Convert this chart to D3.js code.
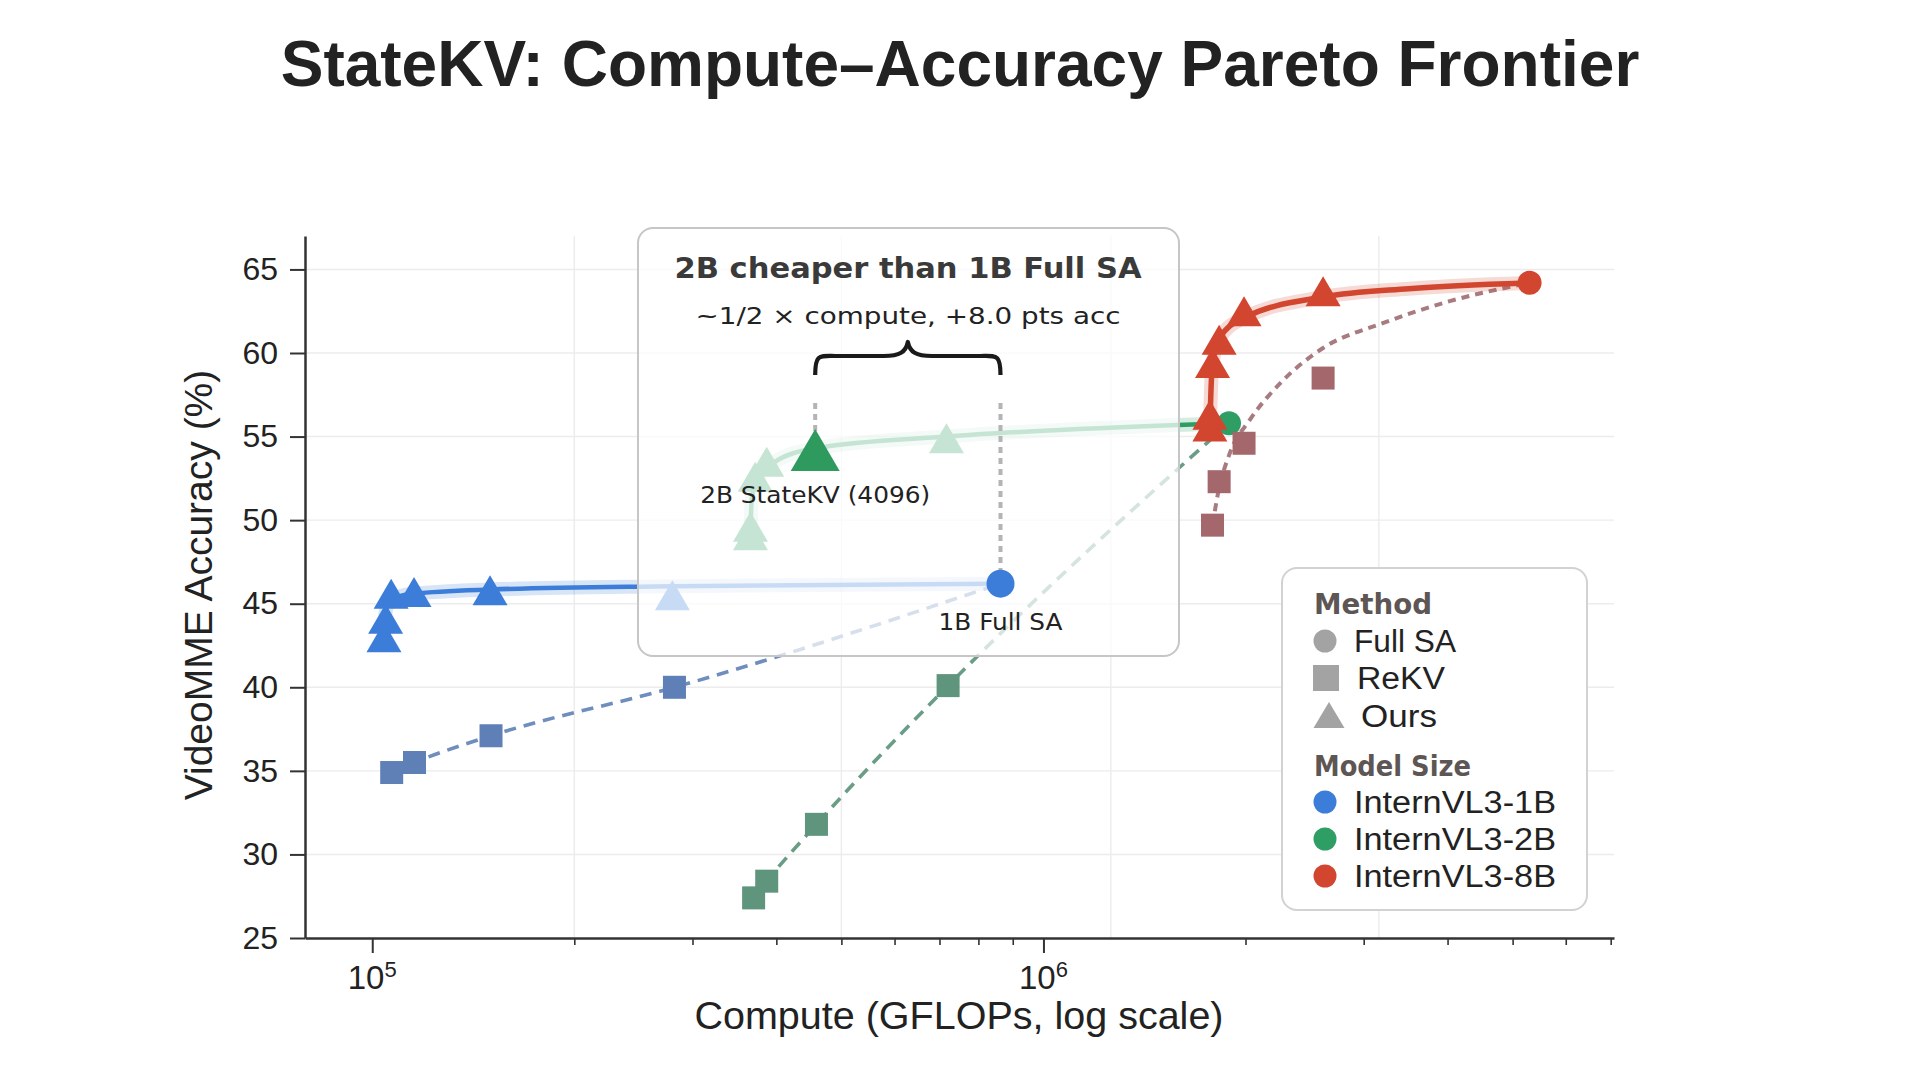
<!DOCTYPE html>
<html>
<head>
<meta charset="utf-8">
<script src="https://cdn.jsdelivr.net/npm/d3@7"></script>
<style>
  html, body { margin: 0; padding: 0; background: #ffffff; }
  svg { display: block; }
</style>
</head>
<body>
<script>
// ---------------- DATA ----------------
const models = ["InternVL3-1B", "InternVL3-2B", "InternVL3-8B"];
const methods = ["Full SA", "ReKV", "Ours"];

// Full self-attention reference points (one per model)
const fullSA_x = [8.63e5, 1.89e6, 5.30e6];
const fullSA_y = [46.2, 55.8, 64.2];

// ReKV points
const rekv1B_x = [1.069e5, 1.156e5, 1.503e5, 2.82e5];
const rekv1B_y = [34.9, 35.5, 37.1, 40.0];
const rekv2B_x = [3.70e5, 3.87e5, 4.59e5, 7.21e5];
const rekv2B_y = [27.4, 28.4, 31.8, 40.1];
const rekv8B_x = [1.786e6, 1.827e6, 1.99e6, 2.61e6];
const rekv8B_y = [49.7, 52.3, 54.6, 58.5];

// Ours (StateKV) points
const ours1B_x = [1.041e5, 1.047e5, 1.067e5, 1.154e5, 1.498e5, 2.80e5];
const ours1B_y = [43.0, 44.1, 45.6, 45.7, 45.8, 45.5];
const ours2B_x = [3.66e5, 3.66e5, 3.72e5, 3.87e5, 4.57e5, 7.17e5];
const ours2B_y = [49.1, 49.6, 52.6, 53.5, 54.2, 54.9];
const ours8B_x = [1.77e6, 1.77e6, 1.786e6, 1.827e6, 1.99e6, 2.61e6];
const ours8B_y = [55.6, 56.3, 59.4, 60.8, 62.5, 63.7];

// Frontier curves
const ours1B_curve_x = [1.041e5, 1.046e5, 1.06e5, 1.10e5, 1.154e5, 1.50e5, 2.80e5, 8.63e5];
const ours1B_curve_y = [43.0, 44.4, 45.15, 45.45, 45.6, 45.85, 46.05, 46.2];
const ours2B_curve_x = [3.66e5, 3.675e5, 3.75e5, 3.95e5, 4.57e5, 7.17e5, 1.0e6, 1.89e6];
const ours2B_curve_y = [49.1, 51.2, 52.5, 53.4, 54.3, 55.0, 55.35, 55.8];
const ours8B_curve_x = [1.77e6, 1.776e6, 1.786e6, 1.83e6, 1.99e6, 2.61e6, 3.5e6, 5.30e6];
const ours8B_curve_y = [55.6, 57.6, 59.4, 60.9, 62.1, 63.35, 63.85, 64.2];
const rekv8B_curve_x = [1.786e6, 1.82e6, 1.895e6, 2.03e6, 2.28e6, 2.61e6, 3.21e6, 4.03e6, 5.30e6];
const rekv8B_curve_y = [49.7, 51.6, 54.0, 56.0, 58.4, 60.3, 61.8, 63.1, 64.2];

// Highlight
const highlight2B_index = 4;      // 2B StateKV (4096) point within ours2B
const highlight1B_model = 0;      // 1B Full SA

// Axis ticks / labels
const yTicks = [25, 30, 35, 40, 45, 50, 55, 60, 65];
const xMajor = [1e5, 1e6];
const xMajorExp = ["5", "6"];
const xMinor = [2e5, 3e5, 4e5, 5e5, 6e5, 7e5, 8e5, 9e5, 2e6, 3e6, 4e6, 5e6, 6e6, 7e6];
const xGrid = [2.0e5, 5.0e5, 1.26e6, 3.16e6];

const titleText = "StateKV: Compute\u2013Accuracy Pareto Frontier";
const xLabel = "Compute (GFLOPs, log scale)";
const yLabel = "VideoMME Accuracy (%)";
const annTitle = "2B cheaper than 1B Full SA";
const annSub = "~1/2 \u00d7 compute, +8.0 pts acc";
const annLabel2B = "2B StateKV (4096)";
const annLabel1B = "1B Full SA";

// ---------------- STYLE ----------------
const modelColor = ["#3b7dd8", "#2f9e64", "#d2452f"];
const rekvColor = ["#5f80b6", "#5f957c", "#a4676b"];
const rekvLine = ["#6f8dbd", "#6a9d86", "#a87b80"];
const FONT = "'Liberation Sans', Arial, sans-serif";
const DV = "'DejaVu Sans', sans-serif";

const W = 1920, H = 1080;
const svg = d3.select("body").append("svg").attr("width", W).attr("height", H);

const x = d3.scaleLog().domain([7.94e4, 7.08e6]).range([305, 1614]);
const y = d3.scaleLinear().domain([25, 67]).range([938, 236]);

const zip = (xs, ys) => xs.map((v, i) => [v, ys[i]]);

// ---------------- GRID ----------------
const grid = svg.append("g");
grid.selectAll("line.h").data(yTicks.slice(1)).join("line")
  .attr("x1", x.range()[0]).attr("x2", x.range()[1])
  .attr("y1", d => y(d)).attr("y2", d => y(d))
  .attr("stroke", "#ececec").attr("stroke-width", 1.4);
grid.selectAll("line.v").data(xGrid).join("line")
  .attr("x1", d => x(d)).attr("x2", d => x(d))
  .attr("y1", y.range()[1]).attr("y2", y.range()[0])
  .attr("stroke", "#ececec").attr("stroke-width", 1.4);

// ---------------- TITLE ----------------
svg.append("text").attr("x", 960).attr("y", 86)
  .attr("text-anchor", "middle").attr("font-family", FONT)
  .attr("font-weight", "bold").attr("font-size", 64).attr("fill", "#222")
  .text(titleText);

// ---------------- AXES ----------------
const yAxis = svg.append("g").attr("transform", `translate(${x.range()[0]},0)`)
  .call(d3.axisLeft(y).tickValues(yTicks).tickSize(15).tickSizeOuter(0).tickPadding(12));
yAxis.select(".domain").attr("stroke", "#333").attr("stroke-width", 2.5);
yAxis.selectAll(".tick line").attr("stroke", "#333").attr("stroke-width", 2);
yAxis.selectAll(".tick text").attr("font-family", FONT).attr("font-size", 32).attr("fill", "#222");

const xAxisMinor = svg.append("g").attr("transform", `translate(0,${y.range()[0]})`)
  .call(d3.axisBottom(x).tickValues(xMinor).tickSize(7).tickSizeOuter(0).tickFormat(""));
xAxisMinor.select(".domain").remove();
xAxisMinor.selectAll(".tick line").attr("stroke", "#333").attr("stroke-width", 1.6);

const xAxis = svg.append("g").attr("transform", `translate(0,${y.range()[0]})`)
  .call(d3.axisBottom(x).tickValues(xMajor).tickSize(15).tickSizeOuter(0).tickFormat(""));
xAxis.select(".domain").attr("stroke", "#333").attr("stroke-width", 2.5);
xAxis.selectAll(".tick line").attr("stroke", "#333").attr("stroke-width", 2);

xMajor.forEach((v, i) => {
  const t = svg.append("text").attr("x", x(v)).attr("y", 989)
    .attr("text-anchor", "middle").attr("font-family", FONT)
    .attr("font-size", 33).attr("fill", "#222");
  t.append("tspan").text("10");
  t.append("tspan").attr("dy", -12).attr("font-size", 22).text(xMajorExp[i]);
});

svg.append("text").attr("x", 959).attr("y", 1029)
  .attr("text-anchor", "middle").attr("font-family", FONT)
  .attr("font-size", 39.5).attr("fill", "#222").text(xLabel);

svg.append("text").attr("transform", "translate(212,585) rotate(-90)")
  .attr("text-anchor", "middle").attr("font-family", FONT)
  .attr("font-size", 39).attr("fill", "#222").text(yLabel);

// ---------------- MARKERS ----------------
const triPath = (cx, cy, w, h) => `M${cx},${cy - h / 2}L${cx + w / 2},${cy + h / 2}L${cx - w / 2},${cy + h / 2}Z`;
const lineGen = d3.line().x(d => x(d[0])).y(d => y(d[1])).curve(d3.curveMonotoneX);

const plot = svg.append("g");

function drawOursLine(pts, color, coreW) {
  plot.append("path").attr("d", lineGen(pts)).attr("fill", "none")
    .attr("stroke", color).attr("stroke-opacity", 0.2).attr("stroke-width", 14)
    .attr("stroke-linecap", "round").attr("stroke-linejoin", "round");
  plot.append("path").attr("d", lineGen(pts)).attr("fill", "none")
    .attr("stroke", color).attr("stroke-width", coreW)
    .attr("stroke-linecap", "round").attr("stroke-linejoin", "round");
}
function drawRekvLine(pts, color, dash, w) {
  plot.append("path").attr("d", lineGen(pts)).attr("fill", "none")
    .attr("stroke", color).attr("stroke-width", w).attr("stroke-dasharray", dash);
}
function drawSquares(xs, ys, color) {
  plot.append("g").selectAll("rect").data(zip(xs, ys)).join("rect")
    .attr("x", d => x(d[0]) - 11.5).attr("y", d => y(d[1]) - 11.5)
    .attr("width", 23).attr("height", 23).attr("fill", color);
}
function drawTriangles(xs, ys, color) {
  plot.append("g").selectAll("path").data(zip(xs, ys)).join("path")
    .attr("d", d => triPath(x(d[0]), y(d[1]), 35, 30)).attr("fill", color);
}
function drawCircle(xv, yv, r, color, g) {
  (g || plot).append("circle").attr("cx", x(xv)).attr("cy", y(yv)).attr("r", r).attr("fill", color);
}

// 1B
drawRekvLine(zip(rekv1B_x.concat([fullSA_x[0]]), rekv1B_y.concat([fullSA_y[0]])), rekvLine[0], "12,8", 3.6);
drawSquares(rekv1B_x, rekv1B_y, rekvColor[0]);
drawOursLine(zip(ours1B_curve_x, ours1B_curve_y), modelColor[0], 4.5);
drawTriangles(ours1B_x, ours1B_y, modelColor[0]);

// 2B
drawRekvLine(zip(rekv2B_x.concat([fullSA_x[1]]), rekv2B_y.concat([fullSA_y[1]])), rekvLine[1], "12,8", 3.6);
drawSquares(rekv2B_x, rekv2B_y, rekvColor[1]);
drawOursLine(zip(ours2B_curve_x, ours2B_curve_y), modelColor[1], 4.5);
drawCircle(fullSA_x[1], fullSA_y[1], 12, modelColor[1]);
drawTriangles(ours2B_x, ours2B_y, modelColor[1]);

// 8B
drawRekvLine(zip(rekv8B_curve_x, rekv8B_curve_y), rekvLine[2], "8,6", 4);
drawSquares(rekv8B_x, rekv8B_y, rekvColor[2]);
drawOursLine(zip(ours8B_curve_x, ours8B_curve_y), modelColor[2], 5.5);
drawCircle(fullSA_x[2], fullSA_y[2], 12, modelColor[2]);
drawTriangles(ours8B_x, ours8B_y, modelColor[2]);

// ---------------- ANNOTATION BOX ----------------
const ann = svg.append("g");
ann.append("rect").attr("x", 638).attr("y", 228).attr("width", 541).attr("height", 428)
  .attr("rx", 15).attr("fill", "#ffffff").attr("fill-opacity", 0.72)
  .attr("stroke", "#c6c6c6").attr("stroke-width", 2);

const hx2 = x(ours2B_x[highlight2B_index]), hy2 = y(ours2B_y[highlight2B_index]);
const hx1 = x(fullSA_x[highlight1B_model]), hy1 = y(fullSA_y[highlight1B_model]);

// dotted guides
ann.append("line").attr("x1", hx2).attr("x2", hx2).attr("y1", 403).attr("y2", hy2)
  .attr("stroke", "#b4b4b4").attr("stroke-width", 4).attr("stroke-dasharray", "6,5");
ann.append("line").attr("x1", hx1).attr("x2", hx1).attr("y1", 403).attr("y2", hy1)
  .attr("stroke", "#b4b4b4").attr("stroke-width", 4).attr("stroke-dasharray", "6,5");

// highlighted markers
ann.append("path").attr("d", triPath(hx2, hy2, 49, 42)).attr("fill", "#2e9a5e");
drawCircle(fullSA_x[highlight1B_model], fullSA_y[highlight1B_model], 14, modelColor[0], ann);

// brace
const bL = hx2, bR = hx1, bM = (bL + bR) / 2, bTop = 342, bMid = 356, bBot = 375;
const braceD = `M${bL},${bBot} C${bL},${bMid - 2} ${bL + 4},${bMid} ${bL + 20},${bMid}
  L${bM - 24},${bMid} C${bM - 8},${bMid} ${bM - 2},${bMid - 4} ${bM},${bTop}
  C${bM + 2},${bMid - 4} ${bM + 8},${bMid} ${bM + 24},${bMid}
  L${bR - 20},${bMid} C${bR - 4},${bMid} ${bR},${bMid - 2} ${bR},${bBot}`;
ann.append("path").attr("d", braceD).attr("fill", "none")
  .attr("stroke", "#1a1a1a").attr("stroke-width", 4.2).attr("stroke-linejoin", "round");

// texts
ann.append("text").attr("x", 908).attr("y", 278).attr("text-anchor", "middle")
  .attr("font-family", DV).attr("font-weight", "bold").attr("font-size", 29)
  .attr("fill", "#3a3a3a").attr("textLength", 467).attr("lengthAdjust", "spacingAndGlyphs")
  .text(annTitle);
ann.append("text").attr("x", 908).attr("y", 324).attr("text-anchor", "middle")
  .attr("font-family", DV).attr("font-size", 23.5)
  .attr("fill", "#222").attr("textLength", 425).attr("lengthAdjust", "spacingAndGlyphs")
  .text(annSub);
ann.append("text").attr("x", hx2).attr("y", 503).attr("text-anchor", "middle")
  .attr("font-family", DV).attr("font-size", 23)
  .attr("fill", "#222").attr("textLength", 230).attr("lengthAdjust", "spacingAndGlyphs")
  .text(annLabel2B);
ann.append("text").attr("x", hx1).attr("y", 630).attr("text-anchor", "middle")
  .attr("font-family", DV).attr("font-size", 23)
  .attr("fill", "#222").attr("textLength", 124).attr("lengthAdjust", "spacingAndGlyphs")
  .text(annLabel1B);

// ---------------- LEGEND ----------------
const lg = svg.append("g");
lg.append("rect").attr("x", 1282).attr("y", 568).attr("width", 305).attr("height", 342)
  .attr("rx", 15).attr("fill", "#ffffff").attr("stroke", "#d2d2d2").attr("stroke-width", 2);

const headerColor = "#5d5654";
const lgGrey = "#a3a3a3";
lg.append("text").attr("x", 1314).attr("y", 614).attr("font-family", DV).attr("font-weight", "bold")
  .attr("font-size", 28).attr("fill", headerColor).attr("textLength", 118).attr("lengthAdjust", "spacingAndGlyphs")
  .text("Method");
const methodRows = [
  { y: 652, w: 102, tx: 1354 },
  { y: 689, w: 88, tx: 1357 },
  { y: 727, w: 76, tx: 1361 }
];
methods.forEach((m, i) => {
  const r = methodRows[i];
  const cy = r.y - 11;
  if (i === 0) lg.append("circle").attr("cx", 1325).attr("cy", cy).attr("r", 11.5).attr("fill", lgGrey);
  if (i === 1) lg.append("rect").attr("x", 1313).attr("y", cy - 13).attr("width", 26).attr("height", 26).attr("fill", lgGrey);
  if (i === 2) lg.append("path").attr("d", triPath(1329, cy - 1, 31, 26)).attr("fill", lgGrey);
  lg.append("text").attr("x", r.tx).attr("y", r.y).attr("font-family", FONT).attr("font-size", 31)
    .attr("fill", "#222").attr("textLength", r.w).attr("lengthAdjust", "spacingAndGlyphs").text(m);
});
lg.append("text").attr("x", 1314).attr("y", 776).attr("font-family", DV).attr("font-weight", "bold")
  .attr("font-size", 28).attr("fill", headerColor).attr("textLength", 157).attr("lengthAdjust", "spacingAndGlyphs")
  .text("Model Size");
const modelRowY = [813, 850, 887];
models.forEach((m, i) => {
  lg.append("circle").attr("cx", 1325).attr("cy", modelRowY[i] - 11).attr("r", 11.5).attr("fill", modelColor[i]);
  lg.append("text").attr("x", 1354).attr("y", modelRowY[i]).attr("font-family", FONT).attr("font-size", 31)
    .attr("fill", "#222").attr("textLength", 202).attr("lengthAdjust", "spacingAndGlyphs").text(m);
});
</script>
</body>
</html>
